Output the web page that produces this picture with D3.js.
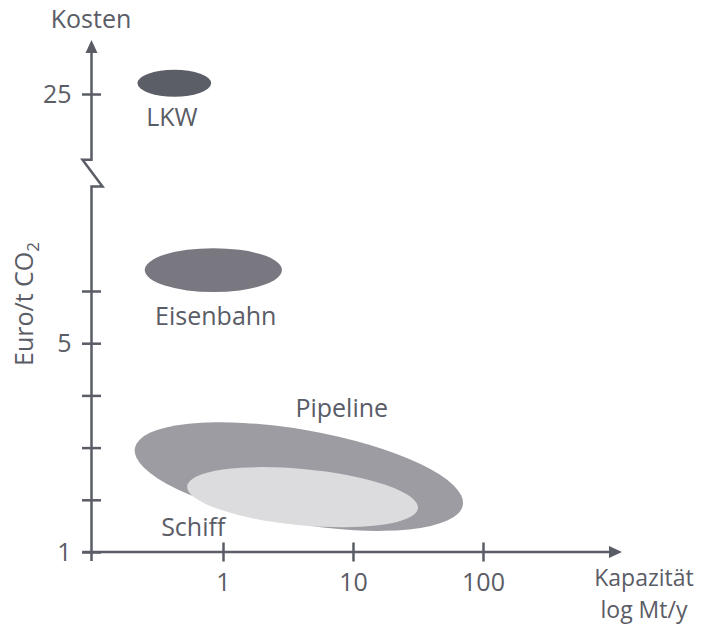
<!DOCTYPE html>
<html>
<head>
<meta charset="utf-8">
<script src="https://cdn.jsdelivr.net/npm/d3@7"></script>
<style>
  html, body { margin: 0; padding: 0; background: #ffffff; }
  svg text { font-family: "Open Sans", "Noto Sans", sans-serif; fill: #5a5c66; }
</style>
</head>
<body>
<svg id="chart" width="702" height="626"></svg>
<script>
// ---- data ----
const modes      = ["Pipeline", "Schiff", "Eisenbahn", "LKW"];
const capLo      = [0.21, 0.53, 0.25, 0.22];   // Mt/y at left end of region
const capHi      = [70, 31.6, 2.84, 0.81];      // Mt/y at right end of region
const costAtLo   = [2.99, 2.26, 6.40, 25.6];    // Euro/t CO2 at left end
const costAtHi   = [1.90, 1.84, 6.40, 25.6];    // Euro/t CO2 at right end
const costHalf   = [0.90, 0.54, 0.42, 0.75];    // half thickness (Euro/t CO2)
const labelCap   = [8.2, 0.59, 0.88, 0.405];
const labelCost  = [3.76, 1.47, 5.52, 23.72];
const xTickVals  = [1, 10, 100];
const xTickLabels = ["1", "10", "100"];
const yTickValsLow = [1, 2, 3, 4, 5, 6];
const yLabelVals = [1, 5, 25];
const yTickValsHigh = [25];

// ---- styles ----
const colors = { "Pipeline": "#9d9ca2", "Schiff": "#dcdcdf", "Eisenbahn": "#797880", "LKW": "#5c5e67" };
const axisColor = "#5a5c66";
const fontSize = 25;

const svg = d3.select("#chart");

// scales
const x = d3.scaleLog().domain([0.1, 1000]).range([93, 613]);
const yLow = d3.scaleLinear().domain([1, 8]).range([552, 186.6]);
const yHigh = d3.scaleLinear().domain([20, 28]).range([184, 40]);
const y = v => v >= 15 ? yHigh(v) : yLow(v);

const x0 = x(0.1) - 1.5; // y-axis position

// ---- regions (ellipses) ----
[0, 1, 2, 3].forEach(i => {
  const p1 = [x(capLo[i]), y(costAtLo[i])];
  const p2 = [x(capHi[i]), y(costAtHi[i])];
  const cx = (p1[0] + p2[0]) / 2, cy = (p1[1] + p2[1]) / 2;
  const a = Math.hypot(p2[0] - p1[0], p2[1] - p1[1]) / 2;
  const ang = Math.atan2(p2[1] - p1[1], p2[0] - p1[0]) * 180 / Math.PI;
  const cMid = (costAtLo[i] + costAtHi[i]) / 2;
  const b = Math.abs(y(cMid - costHalf[i]) - y(cMid + costHalf[i])) / 2;
  svg.append("ellipse")
    .attr("cx", 0).attr("cy", 0).attr("rx", a).attr("ry", b)
    .attr("transform", `translate(${cx},${cy}) rotate(${ang})`)
    .attr("fill", colors[modes[i]]);
});

// labels
modes.forEach((m, i) => {
  svg.append("text")
    .attr("x", x(labelCap[i])).attr("y", y(labelCost[i]))
    .attr("dy", "0.35em")
    .attr("text-anchor", "middle")
    .attr("font-size", fontSize)
    .text(m);
});

// ---- x axis ----
const xAxis = d3.axisBottom(x).tickValues(xTickVals).tickFormat((d, i) => xTickLabels[i]).tickSize(0);
const gx = svg.append("g").attr("transform", `translate(0,${yLow(1)})`).call(xAxis);
gx.select(".domain").remove();
gx.selectAll(".tick line").attr("y1", -9.5).attr("y2", 9.5).attr("stroke", axisColor).attr("stroke-width", 2.5);
gx.selectAll(".tick text").attr("y", 21).attr("dy", "0.71em").attr("font-size", fontSize)
  .attr("fill", axisColor).style("font-family", '"Open Sans", "Noto Sans", sans-serif');

svg.append("line")
  .attr("x1", x0 - 9).attr("x2", 612)
  .attr("y1", yLow(1)).attr("y2", yLow(1))
  .attr("stroke", axisColor).attr("stroke-width", 2.5);
svg.append("path")
  .attr("d", `M622,${yLow(1)} L609,${yLow(1) - 6} L609,${yLow(1) + 6} Z`)
  .attr("fill", axisColor);

// ---- y axis (broken) ----
const breakLowY = yLow(8);
const breakHighY = yHigh(21.35);
const yPath = `M${x0},${yLow(1) + 9} L${x0},${breakLowY} L${x0 + 11},${breakLowY} L${x0 - 9},${breakHighY} L${x0},${breakHighY} L${x0},${yHigh(28) + 10}`;
svg.append("path").attr("d", yPath).attr("fill", "none")
  .attr("stroke", axisColor).attr("stroke-width", 2.5).attr("stroke-linejoin", "miter");
svg.append("path")
  .attr("d", `M${x0},${yHigh(28)} L${x0 - 6},${yHigh(28) + 13} L${x0 + 6},${yHigh(28) + 13} Z`)
  .attr("fill", axisColor);

// y ticks
const yAxisLow = d3.axisLeft(yLow).tickValues(yTickValsLow).tickSize(0)
  .tickFormat(d => yLabelVals.includes(d) ? String(d) : "");
const gyl = svg.append("g").attr("transform", `translate(${x0},0)`).call(yAxisLow);
const yAxisHigh = d3.axisLeft(yHigh).tickValues(yTickValsHigh).tickSize(0).tickFormat(d => String(d));
const gyh = svg.append("g").attr("transform", `translate(${x0},0)`).call(yAxisHigh);
[gyl, gyh].forEach(g => {
  g.select(".domain").remove();
  g.selectAll(".tick line").attr("x1", -9.5).attr("x2", 9.5).attr("stroke", axisColor).attr("stroke-width", 2.5);
  g.selectAll(".tick text").attr("x", -20).attr("font-size", fontSize).attr("fill", axisColor)
    .style("font-family", '"Open Sans", "Noto Sans", sans-serif');
});

// ---- axis titles ----
svg.append("text").attr("x", 91).attr("y", 28).attr("text-anchor", "middle")
  .attr("font-size", fontSize).text("Kosten");

const yt = svg.append("text")
  .attr("transform", "translate(33,304) rotate(-90)")
  .attr("text-anchor", "middle").attr("font-size", fontSize);
yt.append("tspan").text("Euro/t CO");
yt.append("tspan").attr("font-size", 17).attr("dy", 6).text("2");

svg.append("text").attr("x", 644).attr("y", 586).attr("text-anchor", "middle")
  .attr("font-size", 23).text("Kapazität");
svg.append("text").attr("x", 644).attr("y", 618).attr("text-anchor", "middle")
  .attr("font-size", 23).text("log Mt/y");
</script>
</body>
</html>
